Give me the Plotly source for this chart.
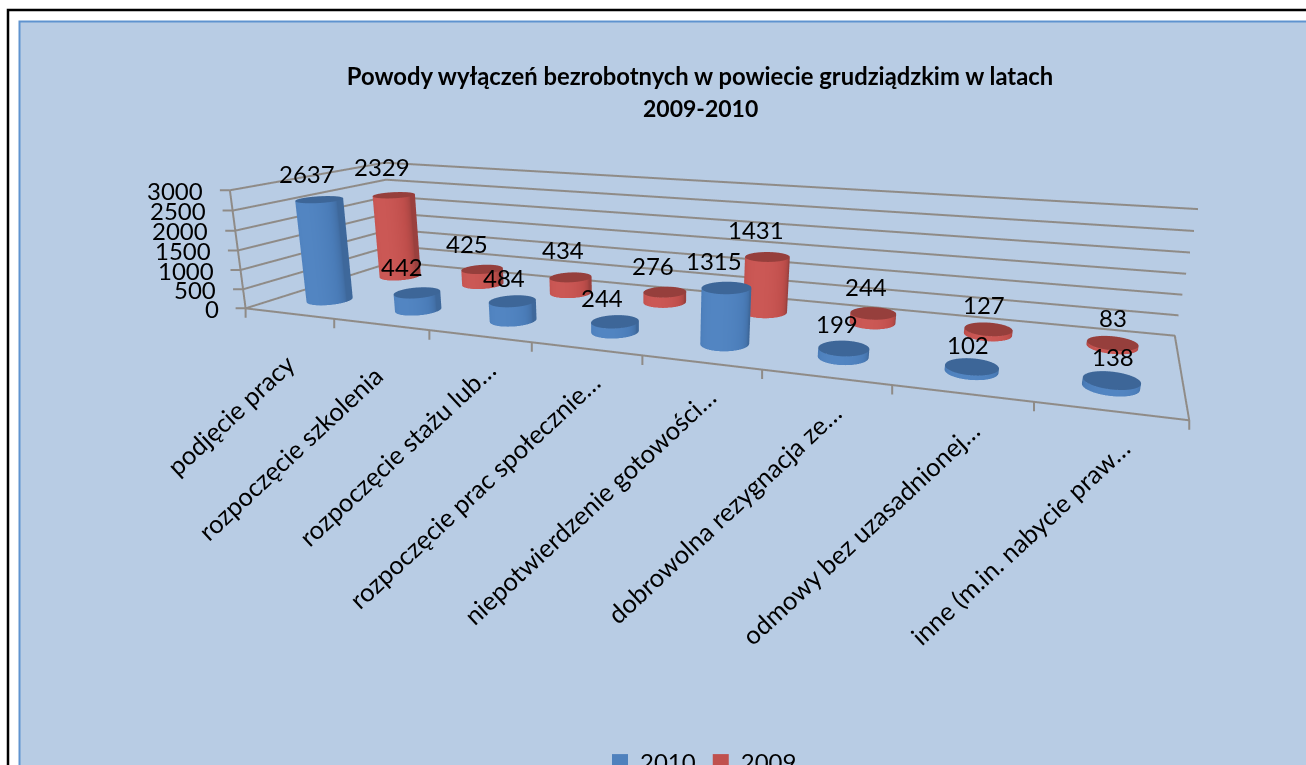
import numpy as np
import plotly.graph_objects as go

CATEGORIES = ["podjęcie pracy", "rozpoczęcie szkolenia", "rozpoczęcie stażu lub…",
              "rozpoczęcie prac społecznie…", "niepotwierdzenie gotowości…",
              "dobrowolna rezygnacja ze…", "odmowy bez uzasadnionej…", "inne (m.in. nabycie praw…"]
VALUES_2010 = [2637, 442, 484, 244, 1315, 199, 102, 138]
VALUES_2009 = [2329, 425, 434, 276, 1431, 244, 127, 83]
Z_TICKS = [0, 500, 1000, 1500, 2000, 2500, 3000]
TITLE_1 = "Powody wyłączeń bezrobotnych w powiecie grudziądzkim w latach"
TITLE_2 = "2009-2010"

# label placement offsets in pixels
LABEL_DX = [13, 10, 24, 23, 23, 24, 26, 29]
LABEL_DY = [32, 33, 15, 15, 16, 17, 19, 18]
SHIFT_X_2010 = [-12, -15, -8, -13, -12, -7, -4, 1]
SHIFT_Y_2010 = [10, 10, 7, 8, 11, 8, 6, 7]
SHIFT_X_2009 = [-12, -15, -8, -12, -11, -7, -4, 0]
SHIFT_Y_2009 = [12, 9, 11, 10, 11, 10, 8, 9]

W, H = 1306, 900   # the window shows the top 765 pixels
FONT = "Lato"
GREY = "#8f8b87"
RADIUS = 0.2
SERIES = [("2010", VALUES_2010, 0.5, ["#2f5688", "#3d6698", "#4a7cb8", "#5285c2"], "#4f81bd",
           SHIFT_X_2010, SHIFT_Y_2010),
          ("2009", VALUES_2009, 1.5, ["#7d2f2d", "#963f3c", "#bf4e4b", "#cb5855"], "#c0504d",
           SHIFT_X_2009, SHIFT_Y_2009)]


def py(px):
    return 1 - px / H


fig = go.Figure()
LIGHT = np.deg2rad(-90)
for name, vals, yc, cols, base, sx, sy in SERIES:
    scale = [[0, cols[0]], [0.2, cols[1]], [0.7, cols[2]], [1, cols[3]]]
    for i, v in enumerate(vals):
        xc = i + 0.5
        th = np.linspace(0, 2 * np.pi, 73)
        xs = np.vstack([xc + RADIUS * np.cos(th)] * 2)
        ys = np.vstack([yc + RADIUS * np.sin(th)] * 2)
        zs = np.vstack([np.zeros_like(th), np.full_like(th, v)])
        sh = np.clip(np.cos(th - LIGHT), 0, 1) ** 0.6 * 0.75 + 0.25
        sc = np.vstack([sh, sh])
        common = dict(colorscale=scale, cmin=0, cmax=1, showscale=False, hoverinfo="skip",
                      lighting=dict(ambient=1, diffuse=0, specular=0, fresnel=0))
        fig.add_surface(x=xs, y=ys, z=zs, surfacecolor=sc, **common)
        r = np.array([0, RADIUS])
        xt = xc + np.outer(r, np.cos(th))
        yt = yc + np.outer(r, np.sin(th))
        zt = np.full_like(xt, v)
        fig.add_surface(x=xt, y=yt, z=zt, surfacecolor=np.full_like(xt, 0.2), **common)
    fig.add_scatter3d(x=[None], y=[None], z=[None], mode="markers", name=name,
                      marker=dict(symbol="square", size=16, color=base), hoverinfo="skip")

n = len(CATEGORIES)
fx, fy, fz = [0, n, n, 0, 0, None, 0, 0], [0, 0, 2, 2, 0, None, 0, 0], [0, 0, 0, 0, 0, None, 0, Z_TICKS[-1]]
for t in Z_TICKS[1:]:
    fx += [None, 0, 0, n]
    fy += [None, 0, 2, 2]
    fz += [None, t, t, t]
fig.add_scatter3d(x=fx, y=fy, z=fz, mode="lines", line=dict(color=GREY, width=4),
                  hoverinfo="skip", showlegend=False)

ann = []
tick = dict(text=" ", showarrow=True, arrowhead=0, arrowwidth=2, arrowcolor=GREY, standoff=0,
            font=dict(size=2))
for i in range(n + 1):
    ann.append(dict(tick, x=i, y=0, z=0, ax=0, ay=12))
for t in Z_TICKS:
    ann.append(dict(tick, x=0, y=0, z=t, ax=-12, ay=0))
    ann.append(dict(x=0, y=0, z=t, text=str(t), showarrow=False, xanchor="right", yanchor="middle",
                    xshift=-25, font=dict(family=FONT, size=24, color="#000")))
for i, c in enumerate(CATEGORIES):
    ann.append(dict(x=i + 0.5, y=0, z=0, text=c, textangle=-43, showarrow=False,
                    xanchor="right", yanchor="top", yshift=-LABEL_DY[i], xshift=LABEL_DX[i],
                    font=dict(family=FONT, size=25.5, color="#000")))
for name, vals, yc, cols, base, sx, sy in SERIES:
    for i, v in enumerate(vals):
        ann.append(dict(x=i + 0.5, y=yc, z=v, text=str(v), showarrow=False,
                        xanchor="center", yanchor="bottom", yshift=sy[i], xshift=sx[i],
                        font=dict(family=FONT, size=24, color="#000")))

axis = dict(showbackground=False, showgrid=False, zeroline=False, title="", showspikes=False,
            showticklabels=False, ticks="")
fig.update_layout(
    width=W, height=H, margin=dict(l=0, r=0, t=0, b=0, autoexpand=False),
    paper_bgcolor="white", showlegend=True, hovermode=False,
    font=dict(family=FONT, color="#000"),
    title=dict(text=f"<b>{TITLE_1}</b>", x=700 / W, xanchor="center", y=py(77), yanchor="middle",
               font=dict(family=FONT, size=23.8, color="#000")),
    annotations=[dict(text=f"<b>{TITLE_2}</b>", x=700 / W, y=py(108), xref="paper", yref="paper",
                      xanchor="center", yanchor="middle",
                      showarrow=False, font=dict(family=FONT, size=23, color="#000"))],
    legend=dict(orientation="h", x=0.5 + 48 / W, xanchor="center", y=py(740), yanchor="top",
                font=dict(family=FONT, size=24), bgcolor="rgba(0,0,0,0)", traceorder="normal"),
    shapes=[
        dict(type="rect", xref="paper", yref="paper", x0=8 / W, x1=1.01, y0=-0.05, y1=py(10),
             line=dict(color="#000", width=2.5), fillcolor="white", layer="below"),
        dict(type="rect", xref="paper", yref="paper", x0=19.5 / W, x1=1.01, y0=-0.05, y1=py(21.5),
             line=dict(color="#5f93cf", width=2), fillcolor="#b8cce4", layer="below"),
    ],
    scene=dict(
        domain=dict(x=[0, 1], y=[0, 1]),
        bgcolor="rgba(0,0,0,0)",
        dragmode="orbit",
        aspectmode="manual",
        aspectratio=dict(x=1.6337, y=0.4816, z=0.2205),
        camera=dict(eye=dict(x=0.6568, y=-1.8288, z=0.3897),
                    center=dict(x=-0.0312, y=-0.1139, z=-0.3268),
                    up=dict(x=-0.1398, y=0.3334, z=0.9324),
                    projection=dict(type="perspective")),
        xaxis=dict(axis, range=[0, n]),
        yaxis=dict(axis, range=[0, 2]),
        zaxis=dict(axis, range=[0, Z_TICKS[-1]]),
        annotations=ann,
    ),
)
fig.write_html("out.html", config={"displayModeBar": False},
               post_script="document.body.style.margin='0';document.body.style.overflow='hidden';")
